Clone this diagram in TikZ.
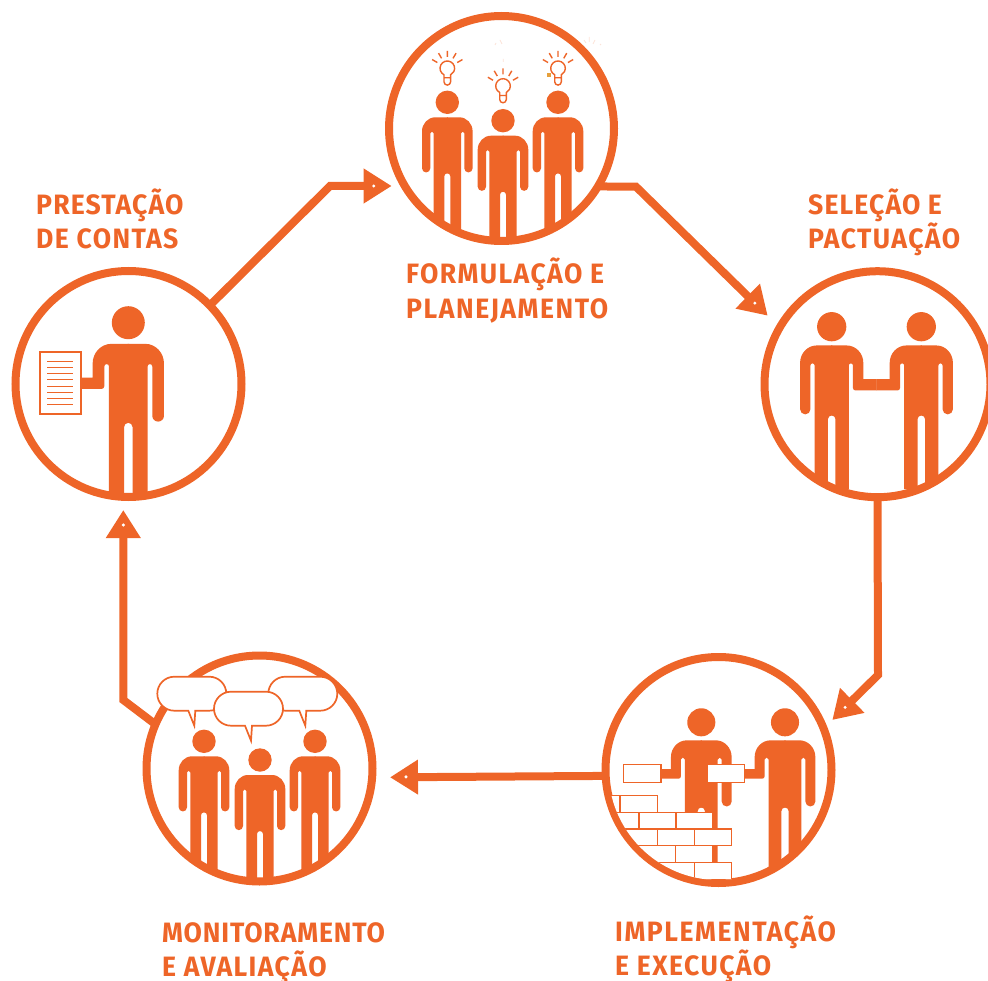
\documentclass[tikz,border=0pt]{standalone}
\usepackage{fontspec}
\setmainfont{Fira Sans}[FakeStretch=0.95,LetterSpace=5]
\usetikzlibrary{arrows.meta,calc}
\definecolor{brand}{HTML}{EE6528}
\definecolor{speck}{HTML}{E6A03C}
\newcommand{\halfdown}{%
  \fill[brand] (-.5,15) -- (12,15) arc[start angle=-90,end angle=0,x radius=13.3,y radius=14]
    -- (25.3,66) arc (0:180:4.15) -- (17,31) arc (0:-180:1.65)
    -- (13.7,130) -- (3,130) -- (3,74) arc (0:-90:3) -- (-.5,71) -- cycle;}
\newcommand{\halfbent}[3]{%
  \fill[brand] (-.5,15) -- (12,15) arc[start angle=-90,end angle=0,x radius=13.3,y radius=14]
    -- (25.3,#1) -- (#3,#1) -- (#3,#2) -- (19,#2) arc (90:180:2) -- (17,31) arc (0:-180:1.65)
    -- (13.7,130) -- (3,130) -- (3,74) arc (0:-90:3) -- (-.5,71) -- cycle;}
\tikzset{
  stage/.style={circle,draw=brand,line width=8pt,fill=white,inner sep=0pt,outer sep=0pt,minimum size=226pt},
  caption/.style={anchor=north west,inner sep=0pt,align=left,text=brand,font=\fontsize{28}{34}\selectfont\bfseries},
  flow/.style={draw=brand,line width=8pt,line join=miter,-{Triangle[length=28pt,width=33pt]}},
  hole/.style={fill=white},
  brick/.style={draw=brand,fill=white,line width=1.2pt},
  person/.pic={
    \fill[brand] (0,0) circle (11.7);
    \halfdown
    \begin{scope}[xscale=-1]\halfdown\end{scope}},
  personhold/.pic={
    \fill[brand] (0,0) circle (11.7);
    \halfdown
    \begin{scope}[xscale=-1]\halfbent{39}{47}{36}\end{scope}},
  personright/.pic={
    \fill[brand] (0,0) circle (11.7);
    \halfbent{42}{51}{36}
    \begin{scope}[xscale=-1]\halfdown\end{scope}},
  personleft/.pic={
    \fill[brand] (0,0) circle (11.7);
    \halfdown
    \begin{scope}[xscale=-1]\halfbent{42}{51}{36}\end{scope}},
  bulb/.pic={
    \draw[brand,line width=1.4pt] (-3.3,6.5) arc (117:423:7.3) -- (3.3,13.5) arc (0:180:3.3) -- cycle
      (-3.3,9.5) -- (3.3,9.5)
      (-30:11.5) -- (-30:17.5) (-60:11.5) -- (-60:17.5) (-90:11.5) -- (-90:17.5)
      (-120:11.5) -- (-120:17.5) (-150:11.5) -- (-150:17.5);},
  bubble/.pic={
    \draw[brand,fill=white,line width=1.7pt] (17,0) -- (52,0) arc (-90:90:17) -- (38,34) -- (37,49)
      -- (31,34) -- (17,34) arc (90:270:17) -- cycle;}
}
\begin{document}
\begin{tikzpicture}[x=1pt,y=-1pt]
    %initialisation
    \useasboundingbox (0,0) rectangle (988,981);
    %definitions
    \coordinate (bendprestacao) at (330,186);
    \coordinate (tipformulacao) at (391.7,186);
    \coordinate (bendformulacao) at (636,186.7);
    \coordinate (tipselecao) at (767.7,315.7);
    \coordinate (bendselecao) at (878,675);
    \coordinate (tipimplementacao) at (832.3,720);
    \coordinate (tipmonitoramento) at (390,777.3);
    \coordinate (bendmonitoramento) at (123.3,700);
    \coordinate (tipprestacao) at (123.3,510);
    %circles
    \node[stage,minimum size=225pt] (formulacao) at (501.5,128.5) {};
    \node[stage] (selecao) at (877.5,384.2) {};
    \node[stage] (implementacao) at (718.5,770) {};
    \node[stage] (monitoramento) at (259.5,768.5) {};
    \node[stage] (prestacao) at (128.5,384) {};
    %connectors
    \draw[flow] (prestacao.44) -- (bendprestacao) -- (tipformulacao);
    \draw[flow] (formulacao.-31) -- (bendformulacao) -- (tipselecao);
    \draw[flow] (selecao.-90) -- (bendselecao) -- (tipimplementacao);
    \draw[flow] (implementacao.183.7) -- (tipmonitoramento);
    \draw[flow] (monitoramento.157) -- (bendmonitoramento) -- (tipprestacao);
    \fill[hole] ($(tipformulacao)!18pt!(bendprestacao)$) circle (1.7);
    \fill[hole] ($(tipselecao)!18pt!(bendformulacao)$) circle (1.7);
    \fill[hole] ($(tipimplementacao)!18pt!(bendselecao)$) circle (1.7);
    \fill[hole] ($(tipmonitoramento)!16pt!(implementacao)$) circle (1.7);
    \fill[hole] ($(tipprestacao)!15pt!(bendmonitoramento)$) circle (1.7);
    %formulacao
    \begin{scope}
      \clip (formulacao.center) circle (110);
      \path (447.3,102.3) pic {person};
      \path (503,120.7) pic {person};
      \path (558,102.3) pic {person};
    \end{scope}
    \path (447.3,68.3) pic {bulb};
    \path (503,86) pic {bulb};
    \path (558,68.3) pic {bulb};
    \fill[speck] (546.7,72.7) rectangle (550.7,77.3);
    \draw[brand!18,line width=.8pt] (495,45) -- (496,43) (500,40) -- (502,44) (503.3,59) -- (503.3,62)
      (584,40) -- (586,43) (589.3,37) -- (589.3,42) (595,40) -- (593,44) (600,44) -- (601,45);
    %selecao
    \begin{scope}
      \clip (selecao.center) circle (110);
      \path (831.7,326.7) pic[scale=1.25] {personright};
      \path (921.3,326.7) pic[scale=1.25] {personleft};
    \end{scope}
    %implementacao
    \begin{scope}
      \clip (implementacao.center) circle (110);
      \path (701.3,722.3) pic[scale=1.2] {personhold};
      \path (785,722.3) pic[scale=1.2] {personhold};
      \draw[brick] (623.3,764.7) rectangle (661,782.3);
      \draw[brick] (707.7,764.7) rectangle (744.3,782.3);
      \draw[brick] (600,795.7) rectangle (619.3,812.7);
      \draw[brick] (620,795.7) rectangle (657.3,812.7);
      \draw[brick] (600,812.7) rectangle (638.3,829);
      \draw[brick] (639,812.7) rectangle (676,829);
      \draw[brick] (676,812.7) rectangle (712.7,829);
      \draw[brick] (600,829) rectangle (657.3,845.7);
      \draw[brick] (657.3,829) rectangle (694.3,845.7);
      \draw[brick] (694.3,829) rectangle (731.7,845.7);
      \draw[brick] (638,845.7) rectangle (675.7,862.3);
      \draw[brick] (675.7,845.7) rectangle (712.7,862.3);
      \draw[brick] (656.7,862.3) rectangle (694.3,878.3);
      \draw[brick] (694.3,862.3) rectangle (731.7,880);
    \end{scope}
    %monitoramento
    \begin{scope}
      \clip (monitoramento.center) circle (110);
      \path (204,741.3) pic {person};
      \path (260,760) pic {person};
      \path (315,741.3) pic {person};
    \end{scope}
    \path (157.3,676.7) pic {bubble};
    \path (268.3,676.7) pic {bubble};
    \path (214,691.7) pic {bubble};
    %prestacao
    \begin{scope}
      \clip (prestacao.center) circle (110);
      \path (128.3,322.7) pic[scale=1.41] {personhold};
    \end{scope}
    \draw[brand,fill=white,line width=2pt] (40.3,352) rectangle (80.7,414.3);
    \draw[brand,line width=1pt] (47.3,361.7) -- (73.3,361.7) (47.3,367.7) -- (73.3,367.7)
      (47.3,374) -- (73.3,374) (47.3,380) -- (73.3,380) (47.3,386.3) -- (73.3,386.3)
      (47.3,392.3) -- (73.3,392.3) (47.3,398.7) -- (73.3,398.7) (47.3,404.7) -- (73.3,404.7);
    %labels
    \node[caption] (captionprestacao) at (36,189) {\addfontfeature{LetterSpace=4}PRESTAÇÃO\\DE CONTAS};
    \node[caption] (captionformulacao) at (406,258) {FORMULAÇÃO E\\[1pt]\addfontfeature{LetterSpace=5.5}PLANEJAMENTO};
    \node[caption] (captionselecao) at (808,189) {\addfontfeature{LetterSpace=4}SELEÇÃO E\\PACTUAÇÃO};
    \node[caption] (captionmonitoramento) at (162,922) {\addfontfeature{LetterSpace=3}MONITORAMENTO\\E AVALIAÇÃO};
    \node[caption] (captionimplementacao) at (615,916) {\addfontfeature{LetterSpace=5.5}IMPLEMENTAÇÃO\\E EXECUÇÃO};
\end{tikzpicture}
\end{document}
